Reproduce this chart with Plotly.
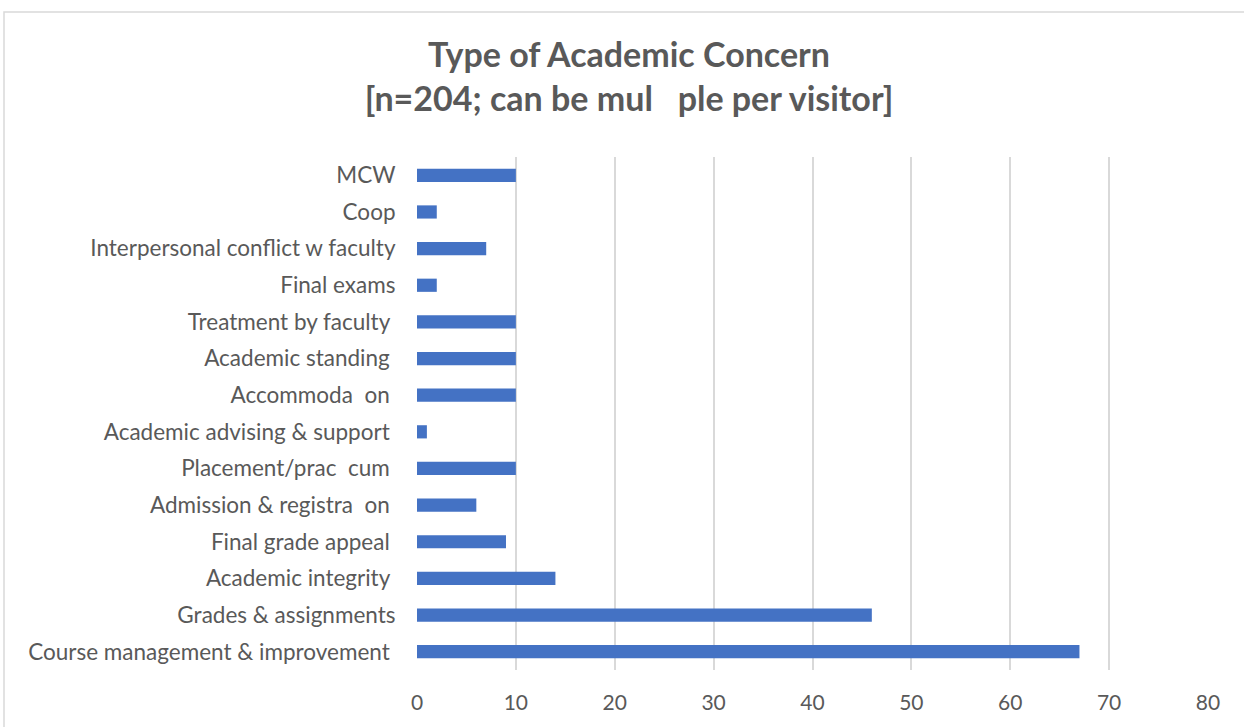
import plotly.graph_objects as go

NB = "\u00a0"
categories = [
    "Course management & improvement" + NB,
    "Grades & assignments",
    "Academic integrity" + NB,
    "Final grade appeal" + NB,
    "Admission & registra" + NB * 2 + "on" + NB,
    "Placement/prac" + NB * 2 + "cum" + NB,
    "Academic advising & support" + NB,
    "Accommoda" + NB * 2 + "on" + NB,
    "Academic standing" + NB,
    "Treatment by faculty" + NB,
    "Final exams",
    "Interpersonal conflict w faculty",
    "Coop",
    "MCW",
]
values = [67, 46, 14, 9, 6, 10, 1, 10, 10, 10, 2, 7, 2, 10]
x_ticks = [0, 10, 20, 30, 40, 50, 60, 70, 80]

W, H = 1244, 727
ML, MR, MT, MB = 417, 36, 157, 57
FONT = "Lato, Open Sans, sans-serif"
GREY = "#595959"

fig = go.Figure(go.Bar(
    x=values, y=categories, orientation="h",
    marker=dict(color="#4472C4", line=dict(width=0)),
    hoverinfo="x+y",
))

pw, ph = W - ML - MR, H - MT - MB
fig.add_shape(type="rect", xref="paper", yref="paper",
              x0=(4 - ML) / pw, x1=(1260 - ML) / pw,
              y0=-(745 - MT - ph) / ph, y1=1 + (MT - 12) / ph,
              line=dict(color="#d9d9d9", width=1.5), fillcolor="rgba(0,0,0,0)", layer="below")

fig.update_layout(
    width=W, height=H,
    margin=dict(l=ML, r=MR, t=MT, b=MB),
    paper_bgcolor="white", plot_bgcolor="white",
    bargap=0.64,
    showlegend=False,
    title=dict(
        text="Type of Academic Concern<br>[n=204; can be mul" + NB * 3 + "ple per visitor]",
        x=629 / W, xanchor="center", y=1 - 67 / H, yanchor="top",
        font=dict(family=FONT, size=34, color=GREY, weight="bold"),
    ),
    xaxis=dict(
        range=[0, 80], tickvals=x_ticks, showgrid=True, gridcolor="#d9d9d9", gridwidth=1.5,
        zeroline=False, showline=False,
        tickfont=dict(family=FONT, size=21, color=GREY),
        ticks="outside", ticklen=14, tickcolor="rgba(0,0,0,0)",
    ),
    yaxis=dict(
        categoryorder="array", categoryarray=categories,
        showgrid=False, zeroline=False, showline=False,
        tickfont=dict(family=FONT, size=22.5, color=GREY),
        ticks="outside", ticklen=16, tickcolor="rgba(0,0,0,0)",
    ),
)
fig.write_html("out.html", config={"displayModeBar": False},
               post_script="document.body.style.margin='0';document.body.style.overflow='hidden';")
